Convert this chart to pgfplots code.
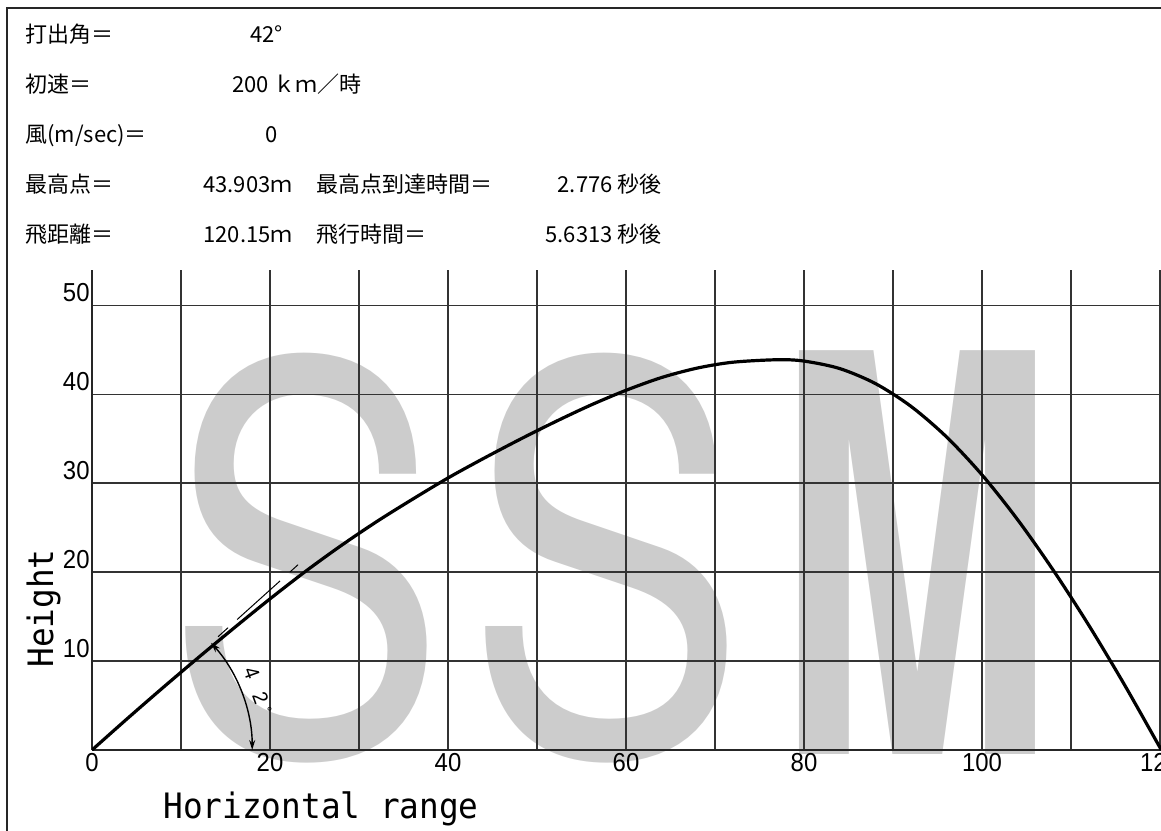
\documentclass[border=0pt]{standalone}
\usepackage{fontspec}
\usepackage{pgfplots}
\pgfplotsset{compat=1.18}
\usetikzlibrary{arrows.meta}

\newfontfamily\jp{Noto Sans CJK JP}
\newfontfamily\tickfam{Liberation Sans}[FakeStretch=0.92]
\newfontfamily\labfam{DejaVu Sans Mono}[FakeStretch=0.935]
\newfontfamily\wmfam{TeX Gyre Heros}
\newcommand\hd{\jp\fontsize{11pt}{13pt}\selectfont}
\newcommand\tickfont{\tickfam\fontsize{13pt}{15pt}\selectfont}
\newcommand\labfont{\labfam\fontsize{17.5pt}{20pt}\selectfont}

\begin{document}
\begin{tikzpicture}
\useasboundingbox (0,0) rectangle (580.5pt,-415pt);
\clip (0,0) rectangle (580.5pt,-415pt);

% outer frame
\draw[line width=1pt, black!85] (3.5pt,-416pt) -- (3.5pt,-4pt) -- (582pt,-4pt);

% header lines
\begin{scope}[every node/.style={inner sep=0pt, font=\hd}]
\node[anchor=base west] at (12.5pt,-21pt) {打出角＝};
\node[anchor=base west] at (125pt,-21pt) {42°};
\node[anchor=base west] at (12.5pt,-46pt) {初速＝};
\node[anchor=base west] at (116pt,-46pt) {200 ｋｍ／時};
\node[anchor=base west] at (12.5pt,-71pt) {風(m/sec)＝};
\node[anchor=base west] at (132.5pt,-71pt) {0};
\node[anchor=base west] at (12.5pt,-96pt) {最高点＝};
\node[anchor=base west] at (101.5pt,-96pt) {43.903ｍ};
\node[anchor=base west] at (158pt,-96pt) {最高点到達時間＝};
\node[anchor=base east] at (331pt,-96pt) {2.776 秒後};
\node[anchor=base west] at (12.5pt,-121pt) {飛距離＝};
\node[anchor=base west] at (101.5pt,-121pt) {120.15ｍ};
\node[anchor=base west] at (158pt,-121pt) {飛行時間＝};
\node[anchor=base east] at (331pt,-121pt) {5.6313 秒後};
\end{scope}

% watermark letters behind the grid
\begin{scope}[every node/.style={inner sep=0pt, anchor=base, text=gray!40}]
\node[xscale=0.786, font=\wmfam\fontsize{268pt}{268pt}\selectfont] at (153pt,-376.5pt) {S};
\node[xscale=0.786, font=\wmfam\fontsize{268pt}{268pt}\selectfont] at (303pt,-376.5pt) {S};
\node[xscale=0.6, font=\wmfam\bfseries\fontsize{277pt}{277pt}\selectfont] at (458pt,-377pt) {M};
\end{scope}

\begin{axis}[
  at={(46pt,-375pt)}, anchor=south west,
  x=4.45pt, y=4.445pt,
  xmin=0, xmax=120.15, ymin=0, ymax=54,
  axis lines*=left,
  axis line style={line width=1pt, black!85},
  xtick={0,20,...,120}, minor xtick={10,30,...,110},
  ytick={10,20,30,40,50},
  grid=both,
  major grid style={line width=0.9pt, black!80},
  minor grid style={line width=0.9pt, black!80},
  major tick length=0pt, minor tick length=0pt,
  tick label style={font=\tickfont},
  /pgf/number format/assume math mode=true,
  xticklabel style={anchor=north, inner sep=0pt, yshift=-1.5pt},
  yticklabel style={anchor=south east, inner sep=0pt, xshift=-1pt, yshift=1.5pt},
]
% trajectory
\addplot[black, line width=1.6pt, smooth] coordinates {
  (0,0) (4,3.56) (8,7.04) (12,10.44) (16,13.76) (20,17.0) (24,20.1)
  (28,23.0) (32,25.7) (36,28.2) (40,30.6) (44,32.8) (48,34.9) (52,36.9)
  (56,38.78) (60,40.46) (64,41.9) (68,42.96) (72,43.62) (77,43.9)
  (80,43.75) (84,42.91) (88,41.23) (92,38.67) (96,35.23) (100,30.95)
  (104,25.91) (108,20.23) (112,14.03) (116,7.35) (120.15,0)
};
% launch angle marker
\draw[line width=0.5pt, dash pattern=on 6.7pt off 6.1pt on 28.9pt off 6.6pt on 5.5pt off 20pt]
  (axis cs:14.165,12.747) -- (axis cs:23.15,20.84);
\draw[line width=0.7pt, {Stealth[length=5pt,width=3pt]}-{Stealth[length=5pt,width=3pt]}]
  (axis cs:18,0) arc[start angle=0, end angle=42, radius=80.1pt];
\node[anchor=base west, rotate=-70, inner sep=0pt, font=\tickfam\fontsize{10.5pt}{12pt}\selectfont]
  at (axis cs:16.97,8.95) {4\hspace{7.5pt}2\hspace{3pt}\raisebox{2pt}{\fontsize{7pt}{7pt}\selectfont °}};
\end{axis}

% axis titles
\node[anchor=base west, inner sep=0pt, font=\labfont] at (81.5pt,-409pt) {Horizontal range};
\node[anchor=base west, rotate=90, inner sep=0pt, font=\labfont] at (26.5pt,-334pt) {Height};
\end{tikzpicture}
\end{document}
